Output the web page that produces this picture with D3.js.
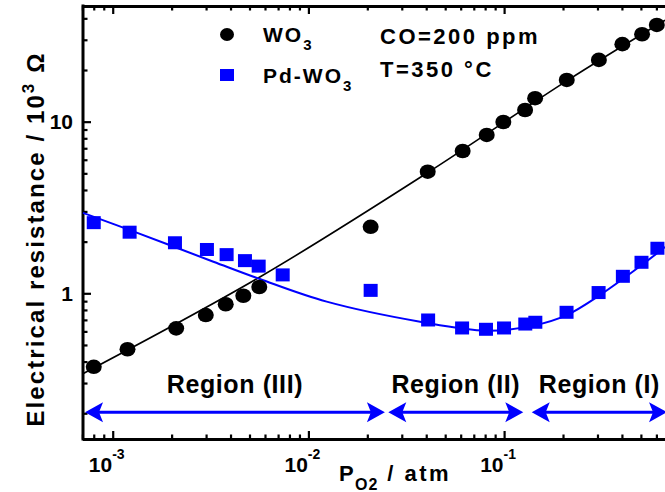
<!DOCTYPE html>
<html>
<head>
<meta charset="utf-8">
<script src="https://cdn.jsdelivr.net/npm/d3@7"></script>
<style>
  body { margin: 0; background: #fff; }
  svg text { font-family: "Liberation Sans", Arial, sans-serif; font-weight: bold; fill: #000; }
</style>
</head>
<body>
<svg id="chart" width="665" height="492"></svg>
<script>
// Oxygen partial pressure (atm) and resistance (10^3 ohm), bare WO3
const pO2WO3 = [8.0e-4, 1.19e-3, 2.11e-3, 2.99e-3, 3.78e-3, 4.65e-3, 5.61e-3, 0.0208, 0.0407, 0.0614,
                0.0815, 0.0991, 0.128, 0.144, 0.209, 0.305, 0.402, 0.507, 0.603];
const resWO3  = [0.373, 0.472, 0.625, 0.747, 0.863, 0.968, 1.088, 2.44, 5.11, 6.75,
                 8.37, 9.96, 11.7, 13.7, 17.5, 22.9, 28.3, 32.3, 36.6];

// Pd-loaded WO3
const pO2Pd = [8.0e-4, 1.22e-3, 2.08e-3, 3.03e-3, 3.82e-3, 4.74e-3, 5.57e-3, 7.39e-3, 0.0208, 0.0409,
               0.0610, 0.0808, 0.0999, 0.1283, 0.1444, 0.2085, 0.304, 0.4045, 0.5036, 0.6073];
const resPd = [2.58, 2.27, 1.97, 1.80, 1.68, 1.55, 1.44, 1.28, 1.04, 0.699,
               0.628, 0.617, 0.628, 0.662, 0.678, 0.775, 1.01, 1.256, 1.516, 1.83];

// Fitted curves
const fitWO3P = [7.0e-4, 5.65e-3, 0.0407, 0.209, 0.664];
const fitWO3R = [0.339, 1.245, 5.05, 17.3, 39.0];
const fitPdP = [7.05e-4, 1.216e-3, 3.27e-3, 5.65e-3, 0.0124, 0.0372, 0.0815, 0.1405, 0.209, 0.309, 0.505, 0.665];
const fitPdR = [2.94, 2.34, 1.528, 1.211, 0.894, 0.683, 0.605, 0.648, 0.747, 0.977, 1.462, 1.862];

// Axis ticks
const xMajorTicks = [1e-3, 1e-2, 1e-1];
const xTickExponents = ["-3", "-2", "-1"];
const yMajorTicks = [1, 10];
const yTickLabels = ["1", "10"];

// Regions along the pO2 axis
const regionNames = ["Region (III)", "Region (II)", "Region (I)"];
const regionFrom = [7.22e-4, 0.0256, 0.1384];
const regionTo   = [0.0246, 0.1253, 0.68];
const regionLevel = 0.203;

const legendNames = ["WO", "Pd-WO"];
const conditions = ["CO=200 ppm", "T=350 \u00B0C"];

const blue = "#0000ff";
const svg = d3.select("#chart");

const x = d3.scaleLog().domain([7e-4, 1]).range([82.4, 699.8]);
const y = d3.scaleLog().domain([0.1416, 47.2]).range([439, 6]);
const [yb, yt] = y.range();

// axes
const isMajor = v => Math.abs(Math.log10(v) - Math.round(Math.log10(v))) < 1e-9;
const xAll = x.ticks();
const yAll = y.ticks();

function styleAxis(g, dir) {
  g.select(".domain").attr("stroke", "#000").attr("stroke-width", 3);
  g.selectAll(".tick line").attr("stroke", "#000").attr("stroke-width", 2.2)
    .each(function(d) {
      const len = isMajor(d) ? 8 : 4.5;
      const sign = +d3.select(this).attr(dir) < 0 ? -1 : 1;
      d3.select(this).attr(dir, sign * len);
    });
  g.selectAll(".tick text").remove();
}

const axisB = svg.append("g").attr("transform", `translate(0,${yb})`)
  .call(d3.axisBottom(x).tickValues(xAll).tickSize(-8).tickSizeOuter(0));
styleAxis(axisB, "y2");

const axisT = svg.append("g").attr("transform", `translate(0,${yt})`)
  .call(d3.axisTop(x).tickValues(xAll).tickSize(-8).tickSizeOuter(0));
styleAxis(axisT, "y2");

const axisL = svg.append("g").attr("transform", `translate(83,0)`)
  .call(d3.axisLeft(y).tickValues(yAll).tickSize(-8).tickSizeOuter(0));
styleAxis(axisL, "x2");
axisL.select(".domain").attr("d", `M0,${yb + 1.5}V${yt - 1.5}`);

// tick labels
svg.append("g").selectAll("text").data(xMajorTicks).join("text")
  .attr("x", d => x(d) - 6).attr("y", 472)
  .attr("text-anchor", "middle").attr("font-size", 21)
  .each(function(d, i) {
    const t = d3.select(this);
    t.append("tspan").text("10");
    t.append("tspan").attr("dy", -13).attr("font-size", 14).text(xTickExponents[i]);
  });

svg.append("g").selectAll("text").data(yMajorTicks).join("text")
  .attr("x", 73).attr("y", d => y(d) + 7.5)
  .attr("text-anchor", "end").attr("font-size", 21)
  .text((d, i) => yTickLabels[i]);

// axis titles
const yTitle = svg.append("text")
  .attr("transform", "translate(43.5,239) rotate(-90)")
  .attr("text-anchor", "middle").attr("font-size", 24).attr("letter-spacing", 2.1);
yTitle.append("tspan").text("Electrical resistance / 10");
yTitle.append("tspan").attr("dy", -10).attr("font-size", 17).text("3");
yTitle.append("tspan").attr("dy", 10).text(" \u03A9");

const xTitle = svg.append("text").attr("x", 339).attr("y", 481).attr("font-size", 22).attr("letter-spacing", 1.2);
xTitle.append("tspan").text("P");
xTitle.append("tspan").attr("dy", 9).attr("font-size", 16).text("O2");
xTitle.append("tspan").attr("dy", -9).attr("letter-spacing", 2.5).text(" / atm");

// fitted curves
const line = d3.line().x(d => x(d[0])).y(d => y(d[1])).curve(d3.curveCatmullRom.alpha(0.5));
svg.append("path").datum(fitWO3P.map((p, i) => [p, fitWO3R[i]]))
  .attr("d", line).attr("fill", "none").attr("stroke", "#000").attr("stroke-width", 1.6);
svg.append("path").datum(fitPdP.map((p, i) => [p, fitPdR[i]]))
  .attr("d", line).attr("fill", "none").attr("stroke", blue).attr("stroke-width", 2);

// data markers
svg.append("g").selectAll("ellipse").data(pO2WO3).join("ellipse")
  .attr("cx", d => x(d)).attr("cy", (d, i) => y(resWO3[i]))
  .attr("rx", 8).attr("ry", 7.3).attr("fill", "#000");

const sq = 14;
svg.append("g").selectAll("rect").data(pO2Pd).join("rect")
  .attr("x", d => x(d) - sq / 2).attr("y", (d, i) => y(resPd[i]) - sq / 2 + 0.5)
  .attr("width", sq).attr("height", sq - 1).attr("fill", blue);

// region double arrows and labels
const head = (tip, yy, dir) =>
  `M${tip},${yy} L${tip - dir * 18},${yy - 10} L${tip - dir * 14},${yy} L${tip - dir * 18},${yy + 10} Z`;
const regions = svg.append("g");
regionNames.forEach((name, i) => {
  const a = x(regionFrom[i]), b = x(regionTo[i]), yy = y(regionLevel);
  regions.append("line")
    .attr("x1", a + 12).attr("x2", b - 12).attr("y1", yy).attr("y2", yy)
    .attr("stroke", blue).attr("stroke-width", 3);
  regions.append("path").attr("d", head(a, yy, -1)).attr("fill", blue);
  regions.append("path").attr("d", head(b, yy, 1)).attr("fill", blue);
  regions.append("text")
    .attr("x", (a + b) / 2).attr("y", yy - 19)
    .attr("text-anchor", "middle").attr("font-size", 25).attr("letter-spacing", 0.6)
    .text(name);
});

// legend
const legend = svg.append("g");
legend.append("ellipse").attr("cx", 227).attr("cy", 34.5).attr("rx", 7).attr("ry", 6.5).attr("fill", "#000");
legend.append("rect").attr("x", 220).attr("y", 69).attr("width", 14).attr("height", 12).attr("fill", blue);
legendNames.forEach((name, i) => {
  const t = legend.append("text").attr("x", 263).attr("y", 42 + i * 41)
    .attr("font-size", 21).attr("letter-spacing", 2);
  t.append("tspan").text(name);
  t.append("tspan").attr("dy", 8).attr("font-size", 15).text("3");
});
conditions.forEach((c, i) => {
  legend.append("text").attr("x", 380).attr("y", 44 + i * 33)
    .attr("font-size", 22).attr("letter-spacing", 2.5).text(c);
});
</script>
</body>
</html>
